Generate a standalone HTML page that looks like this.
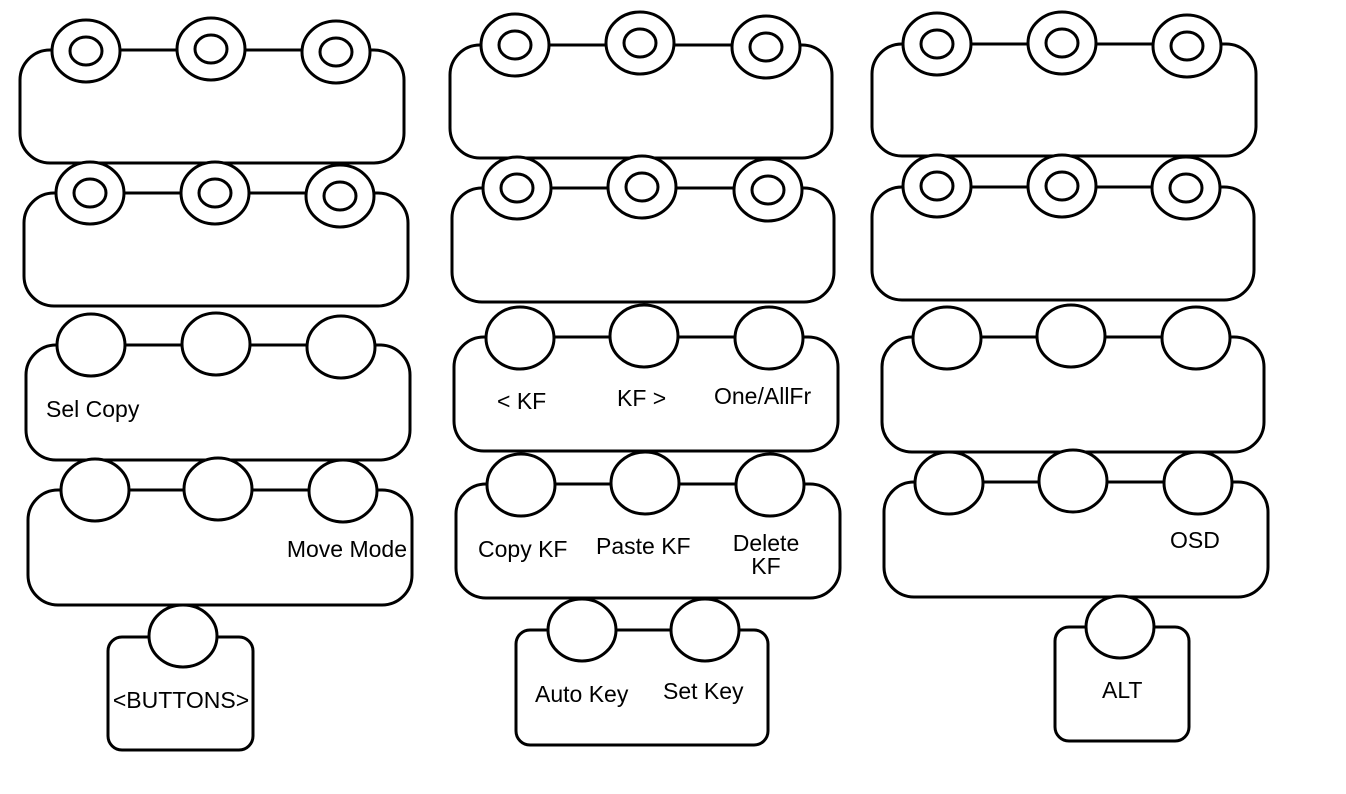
<!DOCTYPE html>
<html><head><meta charset="utf-8"><style>html,body{margin:0;padding:0;background:#fff}svg{display:block}</style></head>
<body>
<svg width="1346" height="794" viewBox="0 0 1346 794" xmlns="http://www.w3.org/2000/svg" font-family="Liberation Sans, sans-serif" font-size="23">
<g fill="#fff" stroke="#000" stroke-width="3">
<rect x="20" y="50" width="384" height="113" rx="30"/>
<rect x="24" y="193" width="384" height="113" rx="30"/>
<rect x="26" y="345" width="384" height="115" rx="30"/>
<rect x="28" y="490" width="384" height="115" rx="30"/>
<rect x="108" y="637" width="145" height="113" rx="14"/>
<rect x="450" y="45" width="382" height="113" rx="30"/>
<rect x="452" y="188" width="382" height="114" rx="30"/>
<rect x="454" y="337" width="384" height="114" rx="30"/>
<rect x="456" y="484" width="384" height="114" rx="30"/>
<rect x="516" y="630" width="252" height="115" rx="14"/>
<rect x="872" y="44" width="384" height="112" rx="30"/>
<rect x="872" y="187" width="382" height="113" rx="30"/>
<rect x="882" y="337" width="382" height="115" rx="30"/>
<rect x="884" y="482" width="384" height="115" rx="30"/>
<rect x="1055" y="627" width="134" height="114" rx="14"/>
<g>
<ellipse cx="86" cy="51" rx="34" ry="31"/><ellipse cx="211" cy="49" rx="34" ry="31"/><ellipse cx="336" cy="52" rx="34" ry="31"/>
<ellipse cx="90" cy="193" rx="34" ry="31"/><ellipse cx="215" cy="193" rx="34" ry="31"/><ellipse cx="340" cy="196" rx="34" ry="31"/>
<ellipse cx="515" cy="45" rx="34" ry="31"/><ellipse cx="640" cy="43" rx="34" ry="31"/><ellipse cx="766" cy="47" rx="34" ry="31"/>
<ellipse cx="517" cy="188" rx="34" ry="31"/><ellipse cx="642" cy="187" rx="34" ry="31"/><ellipse cx="768" cy="190" rx="34" ry="31"/>
<ellipse cx="937" cy="44" rx="34" ry="31"/><ellipse cx="1062" cy="43" rx="34" ry="31"/><ellipse cx="1187" cy="46" rx="34" ry="31"/>
<ellipse cx="937" cy="186" rx="34" ry="31"/><ellipse cx="1062" cy="186" rx="34" ry="31"/><ellipse cx="1186" cy="188" rx="34" ry="31"/>
</g>
<g>
<ellipse cx="86" cy="51" rx="16" ry="14"/><ellipse cx="211" cy="49" rx="16" ry="14"/><ellipse cx="336" cy="52" rx="16" ry="14"/>
<ellipse cx="90" cy="193" rx="16" ry="14"/><ellipse cx="215" cy="193" rx="16" ry="14"/><ellipse cx="340" cy="196" rx="16" ry="14"/>
<ellipse cx="515" cy="45" rx="16" ry="14"/><ellipse cx="640" cy="43" rx="16" ry="14"/><ellipse cx="766" cy="47" rx="16" ry="14"/>
<ellipse cx="517" cy="188" rx="16" ry="14"/><ellipse cx="642" cy="187" rx="16" ry="14"/><ellipse cx="768" cy="190" rx="16" ry="14"/>
<ellipse cx="937" cy="44" rx="16" ry="14"/><ellipse cx="1062" cy="43" rx="16" ry="14"/><ellipse cx="1187" cy="46" rx="16" ry="14"/>
<ellipse cx="937" cy="186" rx="16" ry="14"/><ellipse cx="1062" cy="186" rx="16" ry="14"/><ellipse cx="1186" cy="188" rx="16" ry="14"/>
</g>
<g>
<ellipse cx="91" cy="345" rx="34" ry="31"/><ellipse cx="216" cy="344" rx="34" ry="31"/><ellipse cx="341" cy="347" rx="34" ry="31"/>
<ellipse cx="95" cy="490" rx="34" ry="31"/><ellipse cx="218" cy="489" rx="34" ry="31"/><ellipse cx="343" cy="491" rx="34" ry="31"/>
<ellipse cx="183" cy="636" rx="34" ry="31"/>
<ellipse cx="520" cy="338" rx="34" ry="31"/><ellipse cx="644" cy="336" rx="34" ry="31"/><ellipse cx="769" cy="338" rx="34" ry="31"/>
<ellipse cx="521" cy="485" rx="34" ry="31"/><ellipse cx="645" cy="483" rx="34" ry="31"/><ellipse cx="770" cy="485" rx="34" ry="31"/>
<ellipse cx="582" cy="630" rx="34" ry="31"/><ellipse cx="705" cy="630" rx="34" ry="31"/>
<ellipse cx="947" cy="338" rx="34" ry="31"/><ellipse cx="1071" cy="336" rx="34" ry="31"/><ellipse cx="1196" cy="338" rx="34" ry="31"/>
<ellipse cx="949" cy="483" rx="34" ry="31"/><ellipse cx="1073" cy="481" rx="34" ry="31"/><ellipse cx="1198" cy="483" rx="34" ry="31"/>
<ellipse cx="1120" cy="627" rx="34" ry="31"/>
</g>
</g>
<g fill="#000" dominant-baseline="middle">
<text x="46" y="411">Sel Copy</text>
<text x="407" y="551" text-anchor="end">Move Mode</text>
<text x="181" y="702" text-anchor="middle">&lt;BUTTONS&gt;</text>
<text x="497" y="403">&lt; KF</text>
<text x="617" y="400">KF &gt;</text>
<text x="714" y="398">One/AllFr</text>
<text x="478" y="551">Copy KF</text>
<text x="596" y="548">Paste KF</text>
<text x="766" y="545" text-anchor="middle">Delete</text>
<text x="766" y="568" text-anchor="middle">KF</text>
<text x="535" y="696">Auto Key</text>
<text x="663" y="693">Set Key</text>
<text x="1170" y="542">OSD</text>
<text x="1102" y="692">ALT</text>
</g>
</svg>
</body></html>
